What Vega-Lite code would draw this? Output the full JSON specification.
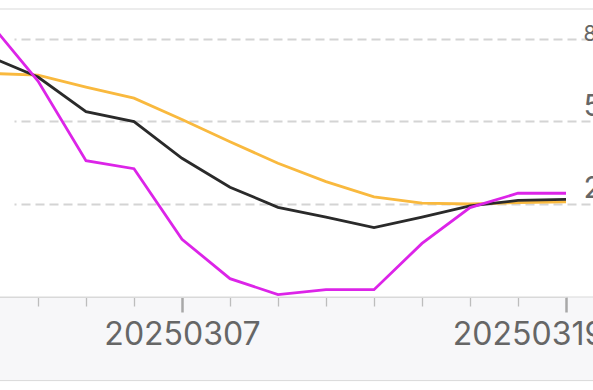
{
  "$schema": "https://vega.github.io/schema/vega-lite/v6.json",
  "width": 580,
  "height": 288,
  "autosize": {"type": "none"},
  "padding": {"top": 9, "bottom": 93, "left": 0, "right": 13},
  "background": "white",
  "config": {"view": {"stroke": null}},
  "datasets": {
    "series": [
      {"date": "20250303", "series": "orange", "value": 67.4},
      {"date": "20250304", "series": "orange", "value": 66.8},
      {"date": "20250305", "series": "orange", "value": 62.4},
      {"date": "20250306", "series": "orange", "value": 58.4},
      {"date": "20250307", "series": "orange", "value": 50.7},
      {"date": "20250310", "series": "orange", "value": 42.6},
      {"date": "20250311", "series": "orange", "value": 34.8},
      {"date": "20250312", "series": "orange", "value": 28.1},
      {"date": "20250313", "series": "orange", "value": 22.6},
      {"date": "20250314", "series": "orange", "value": 20.3},
      {"date": "20250317", "series": "orange", "value": 20.0},
      {"date": "20250318", "series": "orange", "value": 20.5},
      {"date": "20250319", "series": "orange", "value": 20.8},
      {"date": "20250303", "series": "black", "value": 73.4},
      {"date": "20250304", "series": "black", "value": 66.1},
      {"date": "20250305", "series": "black", "value": 53.5},
      {"date": "20250306", "series": "black", "value": 49.9},
      {"date": "20250307", "series": "black", "value": 36.6},
      {"date": "20250310", "series": "black", "value": 26.1},
      {"date": "20250311", "series": "black", "value": 18.8},
      {"date": "20250312", "series": "black", "value": 15.2},
      {"date": "20250313", "series": "black", "value": 11.4},
      {"date": "20250314", "series": "black", "value": 15.2},
      {"date": "20250317", "series": "black", "value": 19.3},
      {"date": "20250318", "series": "black", "value": 21.3},
      {"date": "20250319", "series": "black", "value": 21.7},
      {"date": "20250303", "series": "magenta", "value": 85.7},
      {"date": "20250304", "series": "magenta", "value": 64.6},
      {"date": "20250305", "series": "magenta", "value": 35.7},
      {"date": "20250306", "series": "magenta", "value": 32.8},
      {"date": "20250307", "series": "magenta", "value": 7.2},
      {"date": "20250310", "series": "magenta", "value": -7.1},
      {"date": "20250311", "series": "magenta", "value": -12.9},
      {"date": "20250312", "series": "magenta", "value": -11.1},
      {"date": "20250313", "series": "magenta", "value": -11.1},
      {"date": "20250314", "series": "magenta", "value": 5.7},
      {"date": "20250317", "series": "magenta", "value": 18.7},
      {"date": "20250318", "series": "magenta", "value": 23.9},
      {"date": "20250319", "series": "magenta", "value": 23.9}
    ]
  },
  "layer": [
    {
      "data": {"values": [{}]},
      "mark": {"type": "rect", "clip": false, "fill": "#f7f7f9", "stroke": "#d9d9d9", "strokeWidth": 1},
      "encoding": {
        "x": {"value": -2},
        "x2": {"value": 596},
        "y": {"datum": -13.76, "type": "quantitative", "title": null, "scale": {"domain": [-13.76, 90.78], "nice": false, "zero": false}},
        "y2": {"datum": -44.1}
      }
    },
    {
      "data": {"values": [{}]},
      "mark": {"type": "rule", "clip": false, "stroke": "#d9d9d9", "strokeWidth": 1},
      "encoding": {
        "x": {"value": -2},
        "x2": {"value": 596},
        "y": {"datum": 90.78, "type": "quantitative", "title": null}
      }
    },
    {
      "data": {"name": "series"},
      "transform": [{"filter": "datum.series == 'orange'"}],
      "mark": {"type": "line", "clip": true, "strokeWidth": 2.8, "color": "#f9b93e"},
      "encoding": {
        "x": {"field": "date", "type": "ordinal", "sort": null, "title": null,
          "scale": {"type": "point", "range": [-10, 566], "padding": 0},
          "axis": {
            "orient": "bottom", "zindex": 1,
            "domainColor": "#d9d9d9", "domainWidth": 1,
            "tickColor": {"condition": {"test": "datum.value == '20250307' || datum.value == '20250319'", "value": "#a8a8a8"}, "value": "#bdbdbd"},
            "tickWidth": {"condition": {"test": "datum.value == '20250307' || datum.value == '20250319'", "value": 2.5}, "value": 1.3},
            "tickSize": {"condition": {"test": "datum.value == '20250307' || datum.value == '20250319'", "value": 15}, "value": 9},
            "labelExpr": "datum.value == '20250307' || datum.value == '20250319' ? datum.value : ''",
            "labelAngle": 0, "labelAlign": "center", "labelBaseline": "top",
            "labelOffset": {"condition": {"test": "datum.value == '20250319'", "value": -38}, "value": 0},
            "labelFont": "Inter", "labelFontSize": 32, "labelColor": "#666666",
            "labelPadding": 7, "labelOverlap": false, "labelBound": false, "labelFlush": false,
            "grid": false
          }
        },
        "y": {"field": "value", "type": "quantitative", "title": null,
          "scale": {"domain": [-13.76, 90.78], "nice": false, "zero": false},
          "axis": {
            "orient": "right", "values": [20, 50, 80],
            "domain": false, "ticks": false,
            "grid": true, "gridColor": "#d4d4d4", "gridWidth": 2, "gridDash": [9, 5],
            "labelFont": "Inter", "labelColor": "#666666",
            "labelFontSize": {"condition": {"test": "datum.value == 80", "value": 21}, "value": 30},
            "labelAlign": "left", "labelBaseline": "alphabetic",
            "labelOffset": {"condition": {"test": "datum.value == 80", "value": 2}, "value": -6},
            "labelPadding": 3, "labelFlush": false, "labelBound": false, "labelOverlap": false
          }
        }
      }
    },
    {
      "data": {"name": "series"},
      "transform": [{"filter": "datum.series == 'black'"}],
      "mark": {"type": "line", "clip": true, "strokeWidth": 2.8, "color": "#2a2a2a"},
      "encoding": {
        "x": {"field": "date", "type": "ordinal", "sort": null},
        "y": {"field": "value", "type": "quantitative"}
      }
    },
    {
      "data": {"name": "series"},
      "transform": [{"filter": "datum.series == 'magenta'"}],
      "mark": {"type": "line", "clip": true, "strokeWidth": 2.8, "color": "#dc24e8"},
      "encoding": {
        "x": {"field": "date", "type": "ordinal", "sort": null},
        "y": {"field": "value", "type": "quantitative"}
      }
    }
  ]
}
